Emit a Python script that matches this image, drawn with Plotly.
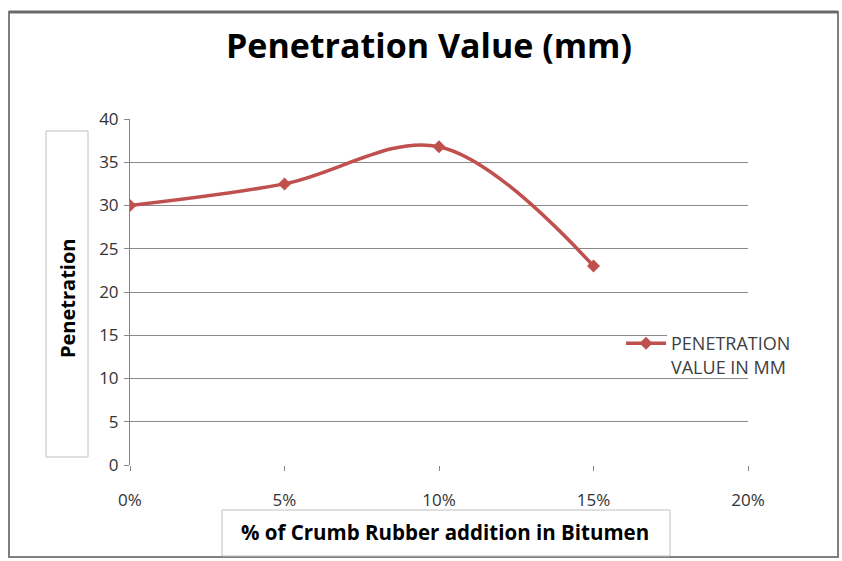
import plotly.graph_objects as go

crumb_pct = [0, 5, 10, 15]
penetration = [30, 32.5, 36.8, 23]
x_ticks = [0, 5, 10, 15, 20]
x_tick_labels = ["0%", "5%", "10%", "15%", "20%"]
y_ticks = [0, 5, 10, 15, 20, 25, 30, 35, 40]

W, H = 842, 561
L, R, T, B = 130, 748, 119, 465
pw, ph = R - L, B - T

def px(x):
    return (x - L) / pw

def py(y):
    return (B - y) / ph

fig = go.Figure()
fig.add_trace(go.Scatter(
    x=crumb_pct, y=penetration, mode="lines+markers",
    name="PENETRATION<br>VALUE IN MM",
    line=dict(color="#C0504D", width=3.5, shape="spline", smoothing=1.0),
    marker=dict(symbol="diamond", size=10, color="#C0504D"),
))

font_fam = "'Open Sans', sans-serif"
fig.update_layout(
    width=W, height=H,
    margin=dict(l=L, r=W - R, t=T, b=H - B),
    paper_bgcolor="white", plot_bgcolor="white",
    title=dict(text="<b>Penetration Value (mm)</b>", x=429 / W, xanchor="center",
               y=1 - 46 / H, yanchor="middle",
               font=dict(family=font_fam, size=34, color="black")),
    showlegend=True,
    legend=dict(x=px(621), y=py(325), xanchor="left", yanchor="top", valign="top",
                font=dict(family=font_fam, size=18, color="#404040"),
                bgcolor="rgba(0,0,0,0)", itemwidth=40, tracegroupgap=0),
    xaxis=dict(range=[0, 20], tickvals=x_ticks, ticktext=x_tick_labels,
               showgrid=False, zeroline=False, showline=False,
               ticks="outside", ticklen=5, tickcolor="#868686",
               ticklabelstandoff=15,
               tickfont=dict(family=font_fam, size=17, color="#333333")),
    yaxis=dict(range=[0, 40], tickvals=y_ticks, showgrid=True, gridcolor="#8a8a8a",
               gridwidth=1, zeroline=False, showline=True, linecolor="#868686",
               ticks="outside", ticklen=5, tickcolor="#868686",
               ticklabelstandoff=2,
               tickfont=dict(family=font_fam, size=17, color="#333333")),
)

shapes = [
    # outer chart border
    dict(type="rect", xref="paper", yref="paper", x0=px(9), x1=px(838), y0=py(12), y1=py(557),
         line=dict(color="#7f7f7f", width=2), layer="below"),
    dict(type="line", xref="paper", yref="paper", x0=px(9), x1=px(838), y0=py(12), y1=py(12),
         line=dict(color="#6a6a6a", width=3)),
    # legend box background hiding the gridline behind the legend text
    dict(type="rect", xref="paper", yref="paper", x0=px(667), x1=px(750), y0=py(331), y1=py(339),
         line=dict(width=0), fillcolor="white", layer="above"),
    # y title box
    dict(type="rect", xref="paper", yref="paper", x0=px(46), x1=px(88), y0=py(131), y1=py(457),
         line=dict(color="#c0c0c0", width=1), fillcolor="rgba(0,0,0,0)"),
    # x title box
    dict(type="rect", xref="paper", yref="paper", x0=px(222), x1=px(670), y0=py(510), y1=py(556),
         line=dict(color="#c0c0c0", width=1), fillcolor="rgba(0,0,0,0)"),
]
fig.update_layout(shapes=shapes)

fig.add_annotation(text="<b>Penetration</b>", xref="paper", yref="paper",
                   x=px(67), y=py(298), xanchor="center", yanchor="middle",
                   textangle=-90, showarrow=False,
                   font=dict(family=font_fam, size=20, color="black"))
fig.add_annotation(text="<b>% of Crumb Rubber addition in Bitumen</b>", xref="paper", yref="paper",
                   x=px(445), y=py(532), xanchor="center", yanchor="middle", showarrow=False,
                   font=dict(family=font_fam, size=20.5, color="black"))

fig.write_html("out.html", config={"displayModeBar": False},
               post_script="document.body.style.margin='0';")
